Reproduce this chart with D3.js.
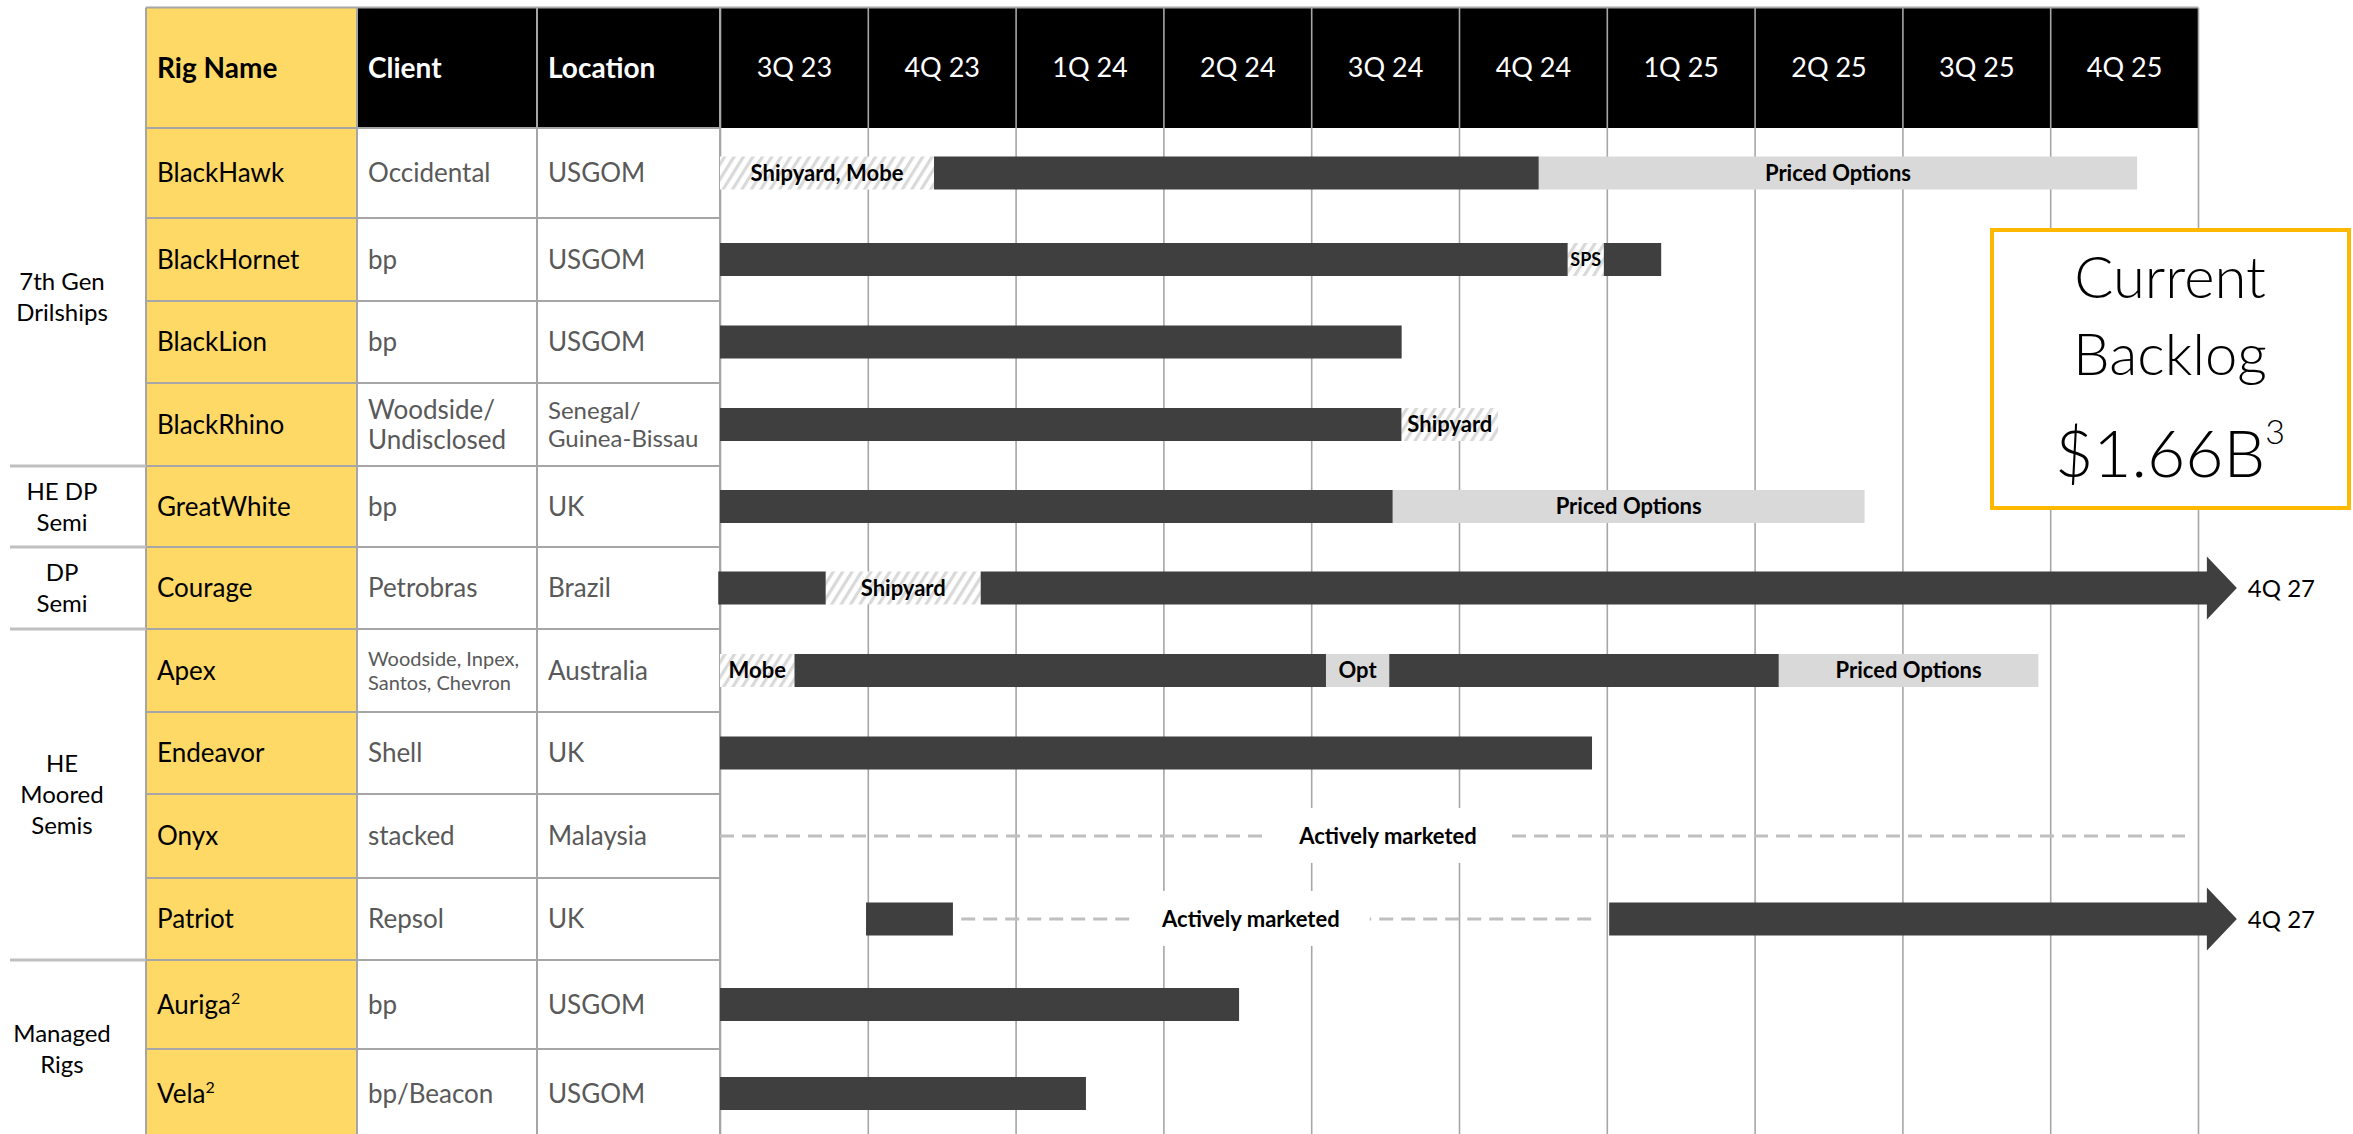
<!DOCTYPE html>
<html>
<head>
<meta charset="utf-8">
<script src="https://cdn.jsdelivr.net/npm/d3@7"></script>
<style>
  body { margin: 0; background: #fff; }
  svg { display: block; font-family: Lato, "Open Sans", sans-serif; }
</style>
</head>
<body>
<div id="chart"></div>
<script>
// Timeline columns
var quarters = ["3Q 23", "4Q 23", "1Q 24", "2Q 24", "3Q 24", "4Q 24", "1Q 25", "2Q 25", "3Q 25", "4Q 25"];
var quarterStarts = [2023.5, 2023.75, 2024.0, 2024.25, 2024.5, 2024.75, 2025.0, 2025.25, 2025.5, 2025.75];

// Table rows
var rigNames = ["BlackHawk", "BlackHornet", "BlackLion", "BlackRhino", "GreatWhite", "Courage",
  "Apex", "Endeavor", "Onyx", "Patriot", "Auriga", "Vela"];
var rigNotes = ["", "", "", "", "", "", "", "", "", "", "2", "2"];
var clients = [["Occidental"], ["bp"], ["bp"], ["Woodside/", "Undisclosed"], ["bp"], ["Petrobras"],
  ["Woodside, Inpex,", "Santos, Chevron"], ["Shell"], ["stacked"], ["Repsol"], ["bp"], ["bp/Beacon"]];
var locations = [["USGOM"], ["USGOM"], ["USGOM"], ["Senegal/", "Guinea-Bissau"], ["UK"], ["Brazil"],
  ["Australia"], ["UK"], ["Malaysia"], ["UK"], ["USGOM"], ["USGOM"]];

// Fleet groups (left column)
var groupLabels = [["7th Gen", "Drilships"], ["HE DP", "Semi"], ["DP", "Semi"], ["HE", "Moored", "Semis"], ["Managed", "Rigs"]];
var groupSizes = [4, 1, 1, 4, 2];

// Segments: rig, start (year), end (year), kind, label, label position (year, idle only)
var segments = [
  ["BlackHawk", 2023.5, 2023.862, "shipyard", "Shipyard, Mobe"],
  ["BlackHawk", 2023.862, 2024.885, "contract", ""],
  ["BlackHawk", 2024.885, 2025.897, "option", "Priced Options"],
  ["BlackHornet", 2023.5, 2024.934, "contract", ""],
  ["BlackHornet", 2024.934, 2024.995, "shipyard", "SPS"],
  ["BlackHornet", 2024.995, 2025.092, "contract", ""],
  ["BlackLion", 2023.5, 2024.653, "contract", ""],
  ["BlackRhino", 2023.5, 2024.653, "contract", ""],
  ["BlackRhino", 2024.653, 2024.816, "shipyard", "Shipyard"],
  ["GreatWhite", 2023.5, 2024.638, "contract", ""],
  ["GreatWhite", 2024.638, 2025.436, "option", "Priced Options"],
  ["Courage", 2023.497, 2023.679, "contract", ""],
  ["Courage", 2023.679, 2023.941, "shipyard", "Shipyard"],
  ["Courage", 2023.941, 2026.015, "arrow", "4Q 27"],
  ["Apex", 2023.5, 2023.626, "shipyard", "Mobe"],
  ["Apex", 2023.626, 2024.525, "contract", ""],
  ["Apex", 2024.525, 2024.632, "option", "Opt"],
  ["Apex", 2024.632, 2025.291, "contract", ""],
  ["Apex", 2025.291, 2025.730, "option", "Priced Options"],
  ["Endeavor", 2023.5, 2024.975, "contract", ""],
  ["Onyx", 2023.5, 2025.978, "idle", "Actively marketed", 2024.63],
  ["Patriot", 2023.747, 2023.894, "contract", ""],
  ["Patriot", 2023.908, 2024.980, "idle", "Actively marketed", 2024.398],
  ["Patriot", 2025.004, 2026.015, "arrow", "4Q 27"],
  ["Auriga", 2023.5, 2024.378, "contract", ""],
  ["Vela", 2023.5, 2024.119, "contract", ""]
];

// Backlog call-out
var backlogLines = ["Current", "Backlog"];
var backlogValue = "$1.66B";
var backlogNote = "3";

// ---- layout ----
var svgWidth = 2353;
var svgHeight = 1134;
var colEdges = [146, 357, 537, 720];
var timeRight = 2198;
var headerTop = 7.5;
var headerBottom = 128;
var rowHeights = [90, 83, 82, 83, 81, 82, 83, 82, 84, 82, 89, 89];
var barHeight = 33;
var gridColor = "#a6a6a6";
var darkBar = "#3f3f3f";
var lightBar = "#d9d9d9";
var bodySize = 26;
var headSize = 28;
var barLabelSize = 22;

var svg = d3.select("#chart")
  .append("svg")
  .attr("width", svgWidth)
  .attr("height", svgHeight);

svg.append("rect").attr("width", svgWidth).attr("height", svgHeight).attr("fill", "#fff");

// hatch for shipyard / mobe periods
var hatch = svg.append("defs").append("pattern")
  .attr("id", "hatch")
  .attr("patternUnits", "userSpaceOnUse")
  .attr("width", 8)
  .attr("height", 8)
  .attr("patternTransform", "rotate(32)");
hatch.append("rect").attr("width", 8).attr("height", 8).attr("fill", "#fff");
hatch.append("rect").attr("width", 3.2).attr("height", 8).attr("fill", "#d9d9d9");

// scales
var xScale = d3.scaleLinear()
  .domain([2023.5, 2026.0])
  .range([colEdges[3], timeRight]);

var rowTops = rowHeights.map(function(h, i) { return headerBottom + d3.sum(rowHeights.slice(0, i)); });
var yTop = d3.scaleOrdinal().domain(rigNames).range(rowTops);
var yHeight = d3.scaleOrdinal().domain(rigNames).range(rowHeights);
function yMid(name) { return yTop(name) + yHeight(name) / 2; }
var tableBottom = svgHeight + 4;

// ---- table backgrounds ----
svg.append("rect")
  .attr("x", colEdges[0]).attr("y", headerTop)
  .attr("width", colEdges[1] - colEdges[0]).attr("height", tableBottom - headerTop)
  .attr("fill", "#ffd966");

svg.append("rect")
  .attr("x", colEdges[1]).attr("y", headerTop)
  .attr("width", timeRight - colEdges[1]).attr("height", headerBottom - headerTop)
  .attr("fill", "#000");

// quarter grid lines through an axis
var gridAxis = d3.axisBottom(xScale)
  .tickValues(quarterStarts.concat([2026.0]))
  .tickSize(tableBottom - headerTop)
  .tickFormat("");
var gridG = svg.append("g")
  .attr("transform", "translate(0," + headerTop + ")")
  .call(gridAxis);
gridG.select(".domain").remove();
gridG.selectAll("line").attr("stroke", gridColor).attr("stroke-width", 1.6);

// table row lines
svg.append("g").selectAll("line")
  .data(rowTops.concat([headerTop]))
  .enter()
  .append("line")
  .attr("x1", colEdges[0]).attr("x2", colEdges[3])
  .attr("y1", function(d) { return d; }).attr("y2", function(d) { return d; })
  .attr("stroke", gridColor)
  .attr("stroke-width", 2);

svg.append("line")
  .attr("x1", colEdges[3]).attr("x2", timeRight)
  .attr("y1", headerTop).attr("y2", headerTop)
  .attr("stroke", gridColor).attr("stroke-width", 2);

svg.append("g").selectAll("line")
  .data(colEdges)
  .enter()
  .append("line")
  .attr("x1", function(d) { return d; }).attr("x2", function(d) { return d; })
  .attr("y1", headerTop).attr("y2", tableBottom)
  .attr("stroke", gridColor)
  .attr("stroke-width", 2);

// ---- header text ----
svg.append("text")
  .attr("x", colEdges[0] + 11).attr("y", (headerTop + headerBottom) / 2)
  .attr("dy", "0.36em")
  .attr("font-size", headSize).attr("font-weight", 700).attr("fill", "#000")
  .text("Rig Name");

svg.selectAll(".colhead")
  .data(["Client", "Location"])
  .enter()
  .append("text")
  .attr("class", "colhead")
  .attr("x", function(d, i) { return colEdges[i + 1] + 11; })
  .attr("y", (headerTop + headerBottom) / 2)
  .attr("dy", "0.36em")
  .attr("font-size", headSize).attr("font-weight", 700).attr("fill", "#fff")
  .text(function(d) { return d; });

// quarter labels through a second axis
var labelAxis = d3.axisTop(xScale)
  .tickValues(quarterStarts.map(function(d) { return d + 0.125; }))
  .tickSize(0)
  .tickFormat(function(d, i) { return quarters[i]; });
var labelG = svg.append("g")
  .attr("transform", "translate(0," + ((headerTop + headerBottom) / 2) + ")")
  .call(labelAxis);
labelG.select(".domain").remove();
labelG.selectAll("text")
  .attr("y", 0)
  .attr("dy", "0.36em")
  .attr("font-family", "Lato, 'Open Sans', sans-serif")
  .attr("font-size", 27)
  .attr("fill", "#fff");

// ---- row text ----
var nameText = svg.append("g").selectAll("text")
  .data(rigNames)
  .enter()
  .append("text")
  .attr("x", colEdges[0] + 11)
  .attr("y", function(d) { return yMid(d); })
  .attr("dy", "0.36em")
  .attr("font-size", bodySize)
  .attr("fill", "#000")
  .text(function(d) { return d; });
nameText.filter(function(d, i) { return rigNotes[i] !== ""; })
  .append("tspan")
  .attr("font-size", 16)
  .attr("dy", "-0.6em")
  .text(function(d) { return rigNotes[rigNames.indexOf(d)]; });

var cellSize = { client: { Apex: 20 }, location: { BlackRhino: 24 } };

function drawCells(lists, colX, kind) {
  var g = svg.append("g");
  lists.forEach(function(lines, i) {
    var name = rigNames[i];
    var size = (cellSize[kind][name]) || bodySize;
    var lh = lines.length > 1 ? size * 1.18 : 0;
    var t = g.append("text")
      .attr("x", colX + 11)
      .attr("y", yMid(name) - (lines.length - 1) * lh / 2)
      .attr("font-size", size)
      .attr("fill", "#595959");
    lines.forEach(function(line, j) {
      t.append("tspan")
        .attr("x", colX + 11)
        .attr("dy", j === 0 ? "0.36em" : lh)
        .text(line);
    });
  });
}
drawCells(clients, colEdges[1], "client");
drawCells(locations, colEdges[2], "location");

// ---- group labels ----
var groupStart = 0;
var groupG = svg.append("g");
groupLabels.forEach(function(lines, i) {
  var first = rigNames[groupStart];
  var last = rigNames[groupStart + groupSizes[i] - 1];
  var top = yTop(first);
  var bottom = yTop(last) + yHeight(last);
  var lh = 31;
  var mid = (top + bottom) / 2;
  var t = groupG.append("text")
    .attr("x", 62)
    .attr("y", mid - (lines.length - 1) * lh / 2)
    .attr("text-anchor", "middle")
    .attr("font-size", 24)
    .attr("fill", "#000");
  lines.forEach(function(line, j) {
    t.append("tspan").attr("x", 62).attr("dy", j === 0 ? "0.36em" : lh).text(line);
  });
  if (i > 0) {
    groupG.append("line")
      .attr("x1", 10).attr("x2", colEdges[0])
      .attr("y1", top).attr("y2", top)
      .attr("stroke", "#bfbfbf").attr("stroke-width", 3);
  }
  groupStart += groupSizes[i];
});

// ---- bars ----
var segData = segments.map(function(s) {
  return { rig: s[0], start: s[1], end: s[2], kind: s[3], label: s[4], labelAt: s[5] };
});

var barG = svg.append("g");

barG.selectAll(".bar")
  .data(segData.filter(function(d) { return d.kind === "contract" || d.kind === "option" || d.kind === "shipyard"; }))
  .enter()
  .append("rect")
  .attr("class", "bar")
  .attr("x", function(d) { return xScale(d.start); })
  .attr("y", function(d) { return yMid(d.rig) - barHeight / 2; })
  .attr("width", function(d) { return xScale(d.end) - xScale(d.start); })
  .attr("height", barHeight)
  .attr("fill", function(d) {
    return d.kind === "contract" ? darkBar : d.kind === "option" ? lightBar : "url(#hatch)";
  });

// arrows (contract running past the chart)
var headLen = 30, headHalf = 31.5;
barG.selectAll(".arrow")
  .data(segData.filter(function(d) { return d.kind === "arrow"; }))
  .enter()
  .append("path")
  .attr("class", "arrow")
  .attr("fill", darkBar)
  .attr("d", function(d) {
    var x0 = xScale(d.start), x1 = xScale(d.end), c = yMid(d.rig), h = barHeight / 2;
    return "M" + x0 + "," + (c - h) + "L" + x1 + "," + (c - h) + "L" + x1 + "," + (c - headHalf) +
      "L" + (x1 + headLen) + "," + c + "L" + x1 + "," + (c + headHalf) + "L" + x1 + "," + (c + h) +
      "L" + x0 + "," + (c + h) + "Z";
  });

barG.selectAll(".arrowlabel")
  .data(segData.filter(function(d) { return d.kind === "arrow"; }))
  .enter()
  .append("text")
  .attr("x", function(d) { return xScale(d.end) + headLen + 11; })
  .attr("y", function(d) { return yMid(d.rig); })
  .attr("dy", "0.36em")
  .attr("font-size", 24)
  .attr("fill", "#000")
  .text(function(d) { return d.label; });

// idle periods: dashed line with a boxed label
var idle = segData.filter(function(d) { return d.kind === "idle"; });
barG.selectAll(".idle")
  .data(idle)
  .enter()
  .append("line")
  .attr("class", "idle")
  .attr("x1", function(d) { return xScale(d.start); })
  .attr("x2", function(d) { return xScale(d.end); })
  .attr("y1", function(d) { return yMid(d.rig); })
  .attr("y2", function(d) { return yMid(d.rig); })
  .attr("stroke", "#bfbfbf")
  .attr("stroke-width", 3)
  .attr("stroke-dasharray", "14 8");

var idleLabels = barG.selectAll(".idlelabel")
  .data(idle)
  .enter()
  .append("g")
  .attr("class", "idlelabel");
idleLabels.append("text")
  .attr("x", function(d) { return xScale(d.labelAt); })
  .attr("y", function(d) { return yMid(d.rig); })
  .attr("dy", "0.36em")
  .attr("text-anchor", "middle")
  .attr("font-size", barLabelSize)
  .attr("font-weight", 700)
  .attr("fill", "#000")
  .text(function(d) { return d.label; });
idleLabels.each(function() {
  var g = d3.select(this);
  var bb = g.select("text").node().getBBox();
  g.insert("rect", "text")
    .attr("x", bb.x - 30).attr("y", bb.y - 14)
    .attr("width", bb.width + 60).attr("height", bb.height + 28)
    .attr("fill", "#fff");
});

// labels inside bars
barG.selectAll(".barlabel")
  .data(segData.filter(function(d) { return d.label && (d.kind === "option" || d.kind === "shipyard"); }))
  .enter()
  .append("text")
  .attr("class", "barlabel")
  .attr("x", function(d) { return (xScale(d.start) + xScale(d.end)) / 2; })
  .attr("y", function(d) { return yMid(d.rig); })
  .attr("dy", "0.36em")
  .attr("text-anchor", "middle")
  .attr("font-size", function(d) { return d.label === "SPS" ? 18 : barLabelSize; })
  .attr("font-weight", 700)
  .attr("fill", "#000")
  .text(function(d) { return d.label; });

// ---- backlog call-out ----
var box = svg.append("g");
box.append("rect")
  .attr("x", 1992).attr("y", 230)
  .attr("width", 357).attr("height", 278)
  .attr("fill", "#fff")
  .attr("stroke", "#ffb800")
  .attr("stroke-width", 4);
box.selectAll(".bl")
  .data(backlogLines)
  .enter()
  .append("text")
  .attr("x", 2170)
  .attr("y", function(d, i) { return 298 + i * 77; })
  .attr("text-anchor", "middle")
  .attr("font-size", 58)
  .attr("font-weight", 300)
  .attr("fill", "#000")
  .text(function(d) { return d; });
var val = box.append("text")
  .attr("x", 2170)
  .attr("y", 477)
  .attr("text-anchor", "middle")
  .attr("font-size", 66)
  .attr("font-weight", 300)
  .attr("fill", "#000");
val.append("tspan").text(backlogValue);
val.append("tspan").attr("font-size", 34).attr("dy", -33).text(backlogNote);
</script>
</body>
</html>
